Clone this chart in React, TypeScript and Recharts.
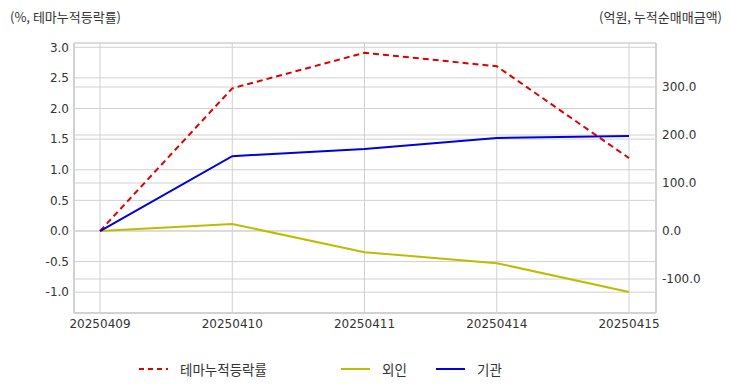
import { ComposedChart, Line, XAxis, YAxis, CartesianGrid, Legend } from 'recharts';

const dates = ['20250409', '20250410', '20250411', '20250414', '20250415'];
const themeReturn = [0, 2.33, 2.91, 2.69, 1.19];
const foreignNet = [0, 14.6, -44, -67, -127];
const institutionNet = [0, 156, 171, 194, 198];

const leftTicks = [-1.0, -0.5, 0.0, 0.5, 1.0, 1.5, 2.0, 2.5, 3.0];
const rightTicks = [-100, 0, 100, 200, 300];

const data = dates.map((d, i) => ({
  date: d,
  theme: themeReturn[i],
  foreign: foreignNet[i],
  inst: institutionNet[i],
}));

const FONT = '"Noto Sans CJK KR", "Noto Sans", sans-serif';
const NUM_FONT = '"DejaVu Sans", "Noto Sans CJK KR", sans-serif';
const tickStyle = { fill: '#333', fontSize: 12, fontFamily: NUM_FONT };
const borderColor = '#d2d2d2';

const legendItems = [
  { label: '테마누적등락률', color: '#e00000', dash: '5 4' },
  { label: '외인', color: '#bdbd00', dash: undefined },
  { label: '기관', color: '#0000e0', dash: undefined },
];

const CustomLegend = () => (
  <div style={{ height: 49, position: 'relative', fontFamily: FONT, fontSize: 13.5, color: '#333' }}>
    {legendItems.map((it, i) => {
      const left = [139, 341, 436][i];
      return (
        <div key={it.label} style={{ position: 'absolute', left, top: 18, display: 'flex', alignItems: 'center' }}>
          <svg width={30} height={16}>
            <line x1={0} x2={29} y1={8} y2={8} stroke={it.color} strokeWidth={2} strokeDasharray={it.dash} />
          </svg>
          <span style={{ marginLeft: 11, lineHeight: '16px' }}>{it.label}</span>
        </div>
      );
    })}
  </div>
);

export default function App() {
  return (
    <div style={{ position: 'absolute', left: 0, top: 0, width: 732, height: 392, background: '#fff' }}>
      <div style={{ position: 'absolute', left: 10, top: 7, fontFamily: FONT, fontSize: 13, color: '#333' }}>
        (%, 테마누적등락률)
      </div>
      <div style={{ position: 'absolute', right: 10, top: 7, fontFamily: FONT, fontSize: 13, color: '#333' }}>
        (억원, 누적순매매금액)
      </div>
      <ComposedChart width={732} height={392} data={data} margin={{ top: 43, right: 0, bottom: 0, left: 0 }}>
        <CartesianGrid yAxisId="left" stroke="#d0d0d0" vertical={true} />
        <CartesianGrid yAxisId="right" stroke="#d0d0d0" vertical={false} />
        <XAxis
          dataKey="date"
          padding={{ left: 26, right: 27 }}
          tick={tickStyle}
          tickLine={false}
          tickSize={0}
          tickMargin={6}
          height={30}
          axisLine={{ stroke: borderColor, strokeWidth: 2 }}
          interval={0}
        />
        <XAxis
          xAxisId="top"
          dataKey="date"
          orientation="top"
          tick={false}
          tickLine={false}
          height={0}
          axisLine={{ stroke: borderColor, strokeWidth: 2 }}
        />
        <YAxis
          yAxisId="left"
          width={74}
          domain={[-1.34, 3.07]}
          ticks={leftTicks}
          tickFormatter={(v: number) => v.toFixed(1)}
          tick={tickStyle}
          tickLine={false}
          tickSize={0}
          tickMargin={5}
          axisLine={{ stroke: borderColor, strokeWidth: 2 }}
          allowDataOverflow
        />
        <YAxis
          yAxisId="right"
          orientation="right"
          width={76}
          domain={[-170.8, 391.7]}
          ticks={rightTicks}
          tickFormatter={(v: number) => v.toFixed(1)}
          tick={{ ...tickStyle, textAnchor: 'start' }}
          tickLine={false}
          tickSize={0}
          tickMargin={6}
          axisLine={{ stroke: borderColor, strokeWidth: 2 }}
          allowDataOverflow
        />
        <Line yAxisId="left" dataKey="theme" stroke="#e00000" strokeWidth={2} strokeDasharray="6 4" dot={false} isAnimationActive={false} />
        <Line yAxisId="right" dataKey="foreign" stroke="#bdbd00" strokeWidth={2} dot={false} isAnimationActive={false} />
        <Line yAxisId="right" dataKey="inst" stroke="#0000e0" strokeWidth={2} dot={false} isAnimationActive={false} />
        <Legend verticalAlign="bottom" content={<CustomLegend />} wrapperStyle={{ width: 732, left: 0 }} />
      </ComposedChart>
    </div>
  );
}
